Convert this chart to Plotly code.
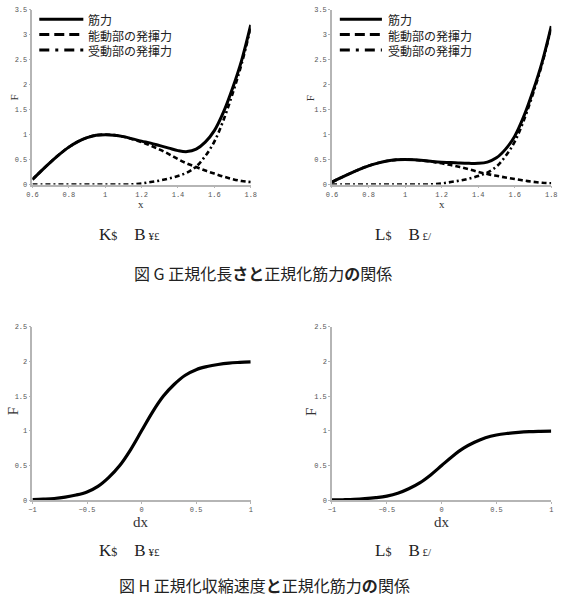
import plotly.graph_objects as go

# ---- data ----
x_len = [0.60, 0.65, 0.70, 0.75, 0.80, 0.85, 0.90, 0.95, 1.00, 1.05, 1.10, 1.15, 1.20,
         1.25, 1.30, 1.35, 1.40, 1.45, 1.50, 1.55, 1.60, 1.65, 1.70, 1.75, 1.80]
active_a = [0.10, 0.28, 0.45, 0.61, 0.75, 0.86, 0.94, 0.99, 1.00, 0.99, 0.96, 0.91, 0.85,
            0.78, 0.70, 0.61, 0.51, 0.42, 0.35, 0.28, 0.22, 0.16, 0.11, 0.07, 0.05]
passive = [0.0, 0.0, 0.0, 0.0, 0.0, 0.0, 0.0, 0.0, 0.0, 0.0, 0.0, 0.005, 0.02,
           0.05, 0.08, 0.12, 0.17, 0.24, 0.36, 0.57, 0.86, 1.29, 1.82, 2.42, 3.15]
total_a = [0.10, 0.28, 0.45, 0.61, 0.75, 0.86, 0.94, 0.99, 1.00, 0.99, 0.96, 0.915, 0.87,
           0.83, 0.78, 0.73, 0.68, 0.66, 0.71, 0.85, 1.08, 1.45, 1.93, 2.49, 3.20]
active_b = [0.05, 0.14, 0.225, 0.305, 0.375, 0.43, 0.47, 0.495, 0.50, 0.495, 0.48, 0.455, 0.425,
            0.39, 0.35, 0.305, 0.255, 0.21, 0.175, 0.14, 0.11, 0.08, 0.055, 0.035, 0.025]
total_b = [0.05, 0.14, 0.225, 0.305, 0.375, 0.43, 0.47, 0.495, 0.50, 0.495, 0.48, 0.46, 0.445,
           0.44, 0.43, 0.425, 0.425, 0.45, 0.535, 0.71, 0.97, 1.37, 1.875, 2.455, 3.175]

x_vel = [-1.0, -0.9, -0.8, -0.7, -0.6, -0.5, -0.4, -0.3, -0.2, -0.1, 0.0,
         0.1, 0.2, 0.3, 0.4, 0.5, 0.6, 0.7, 0.8, 0.9, 1.0]
vel_a = [0.008, 0.015, 0.025, 0.045, 0.075, 0.12, 0.20, 0.33, 0.50, 0.73, 1.0,
         1.27, 1.50, 1.67, 1.80, 1.88, 1.925, 1.955, 1.975, 1.985, 1.992]
vel_b = [0.004, 0.0075, 0.0125, 0.0225, 0.0375, 0.06, 0.10, 0.165, 0.25, 0.365, 0.5,
         0.635, 0.75, 0.835, 0.90, 0.94, 0.9625, 0.9775, 0.9875, 0.9925, 0.996]

names = ["筋力", "能動部の発揮力", "受動部の発揮力"]
x_ticks_len = [0.6, 0.8, 1, 1.2, 1.4, 1.6, 1.8]
y_ticks_len = [0, 0.5, 1, 1.5, 2, 2.5, 3, 3.5]
x_ticks_vel = [-1, -0.5, 0, 0.5, 1]
y_ticks_vel = [0, 0.5, 1, 1.5, 2, 2.5]

sub_a = "K<span style='font-size:12px'>$</span>&nbsp;&nbsp;&nbsp;&nbsp;B<span style='font-size:11px'> ¥£</span>"
sub_b = "L<span style='font-size:12px'>$</span>&nbsp;&nbsp;&nbsp;&nbsp;B<span style='font-size:11px'> £/</span>"
cap1 = "図 G 正規化長<b>さと</b>正規化筋力<b>の</b>関係"
cap2 = "図 H 正規化収縮速度<b>と</b>正規化筋力<b>の</b>関係"

W, H = 570, 596
DASH = "5px,3px"
DASHDOT = "5px,3px,2px,3px"
LEG_DASH = "10px,5px"
LEG_DASHDOT = "10px,6px,3px,6px"

fig = go.Figure()

def add_len(xa, ya, act, tot):
    fig.add_trace(go.Scatter(x=x_len, y=tot, name=names[0], mode="lines", line_shape="spline",
                             line=dict(color="black", width=3), xaxis=xa, yaxis=ya, showlegend=False))
    fig.add_trace(go.Scatter(x=x_len, y=act, name=names[1], mode="lines", line_shape="spline",
                             line=dict(color="black", width=2.6, dash=DASH), xaxis=xa, yaxis=ya,
                             showlegend=False))
    fig.add_trace(go.Scatter(x=x_len, y=passive, name=names[2], mode="lines", line_shape="spline",
                             line=dict(color="black", width=2.6, dash=DASHDOT), xaxis=xa, yaxis=ya,
                             showlegend=False))

add_len("x", "y", active_a, total_a)
add_len("x2", "y2", active_b, total_b)
fig.add_trace(go.Scatter(x=x_vel, y=vel_a, mode="lines", line_shape="spline",
                         line=dict(color="black", width=3.2), xaxis="x3", yaxis="y3", showlegend=False))
fig.add_trace(go.Scatter(x=x_vel, y=vel_b, mode="lines", line_shape="spline",
                         line=dict(color="black", width=3.2), xaxis="x4", yaxis="y4", showlegend=False))

def px(a, b):
    return [a / W, b / W]
def py(top, bot):
    return [1 - bot / H, 1 - top / H]

tickfont = dict(family="Liberation Mono", size=7, color="#555")
axcommon = dict(showgrid=False, zeroline=False, showline=True, linecolor="#b5b5b5", linewidth=1.5,
                ticks="outside", ticklen=2, tickcolor="#b5b5b5", tickfont=tickfont, mirror=False)

layout_axes = dict(
    xaxis=dict(domain=px(27, 250), range=[0.6, 1.8], tickvals=x_ticks_len, anchor="y", **axcommon),
    yaxis=dict(domain=py(6, 183), range=[0, 3.5], tickvals=y_ticks_len, anchor="x", **axcommon),
    xaxis2=dict(domain=px(333, 557), range=[0.6, 1.8], tickvals=x_ticks_len, anchor="y2", **axcommon),
    yaxis2=dict(domain=py(6, 183), range=[0, 3.5], tickvals=y_ticks_len, anchor="x2", **axcommon),
    xaxis3=dict(domain=px(27, 250), range=[-1, 1], tickvals=x_ticks_vel, anchor="y3", **axcommon),
    yaxis3=dict(domain=py(327, 503), range=[0, 2.5], tickvals=y_ticks_vel, anchor="x3", **axcommon),
    xaxis4=dict(domain=px(333, 557), range=[-1, 1], tickvals=x_ticks_vel, anchor="y4", **axcommon),
    yaxis4=dict(domain=py(327, 503), range=[0, 2.5], tickvals=y_ticks_vel, anchor="x4", **axcommon),
)

annots = []
shapes = []

def ann(text, xc, yc, size, family, xanchor="center", angle=0, color="#222", align="center"):
    annots.append(dict(text=text, x=xc / W, y=1 - yc / H, xref="paper", yref="paper",
                       showarrow=False, xanchor=xanchor, yanchor="middle", textangle=angle,
                       align=align, borderpad=0, font=dict(family=family, size=size, color=color)))

# legends (drawn as keys + one multi-line label block)
legend_rows = [15.5, 31, 46.5]
legend_dash = ["solid", LEG_DASH, LEG_DASHDOT]
for (k0, k1, t0) in [(34, 79, 83), (341, 384, 389)]:
    for row, dash in zip(legend_rows, legend_dash):
        shapes.append(dict(type="line", xref="paper", yref="paper",
                           x0=k0 / W, x1=k1 / W, y0=1 - row / H, y1=1 - row / H,
                           line=dict(color="black", width=3, dash=dash)))
    ann("<br>".join(names), t0, legend_rows[1], 12, "Noto Sans CJK JP", xanchor="left", align="left")

# axis titles
ann("x", 138, 203, 11, "Liberation Serif", color="#333")
ann("x", 445, 203, 11, "Liberation Serif", color="#333")
ann("F", 8, 95, 11, "Liberation Serif", angle=-90, color="#333")
ann("F", 310, 95, 11, "Liberation Serif", angle=-90, color="#333")
ann("dx", 138, 525, 15, "Liberation Serif", color="#333")
ann("dx", 445, 525, 15, "Liberation Serif", color="#333")
ann("F", 8, 413, 15, "Liberation Serif", angle=-90, color="#333")
ann("F", 312, 413, 15, "Liberation Serif", angle=-90, color="#333")

# captions
ann(sub_a, 126, 234, 17, "Liberation Serif")
ann(sub_b, 406, 234, 17, "Liberation Serif")
ann(cap1, 263, 273, 16, "Noto Sans CJK JP")
ann(sub_a, 126, 554, 17, "Liberation Serif")
ann(sub_b, 406, 554, 17, "Liberation Serif")
ann(cap2, 264, 589, 16, "Noto Sans CJK JP")

fig.update_layout(
    width=W, height=H, margin=dict(l=0, r=0, t=0, b=0),
    paper_bgcolor="white", plot_bgcolor="white",
    showlegend=False,
    annotations=annots, shapes=shapes,
    **layout_axes,
)

fig.write_html("out.html")
